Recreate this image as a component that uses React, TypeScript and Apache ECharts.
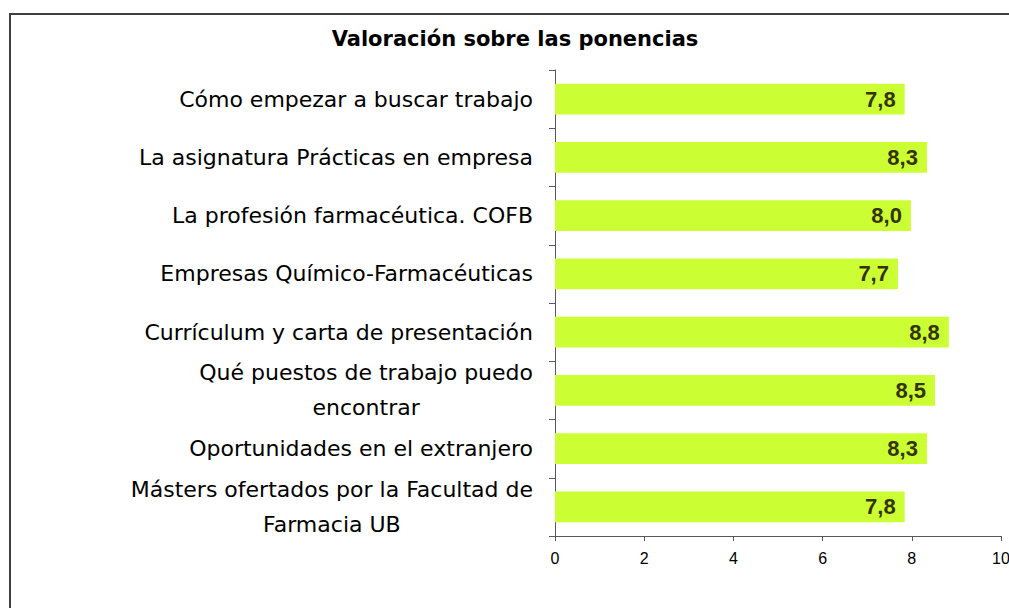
import React, { useEffect, useRef } from "react";
import * as echarts from "echarts";

const categories = [
  "Cómo empezar a buscar trabajo",
  "La asignatura Prácticas en empresa",
  "La profesión farmacéutica. COFB",
  "Empresas Químico-Farmacéuticas",
  "Currículum y carta de presentación",
  "Qué puestos de trabajo puedo\nencontrar",
  "Oportunidades en el extranjero",
  "Másters ofertados por la Facultad de\nFarmacia UB",
];
const values = [7.84, 8.34, 7.98, 7.69, 8.83, 8.52, 8.34, 7.84];
const xTicks = { min: 0, max: 10, interval: 2 };
const title = "Valoración sobre las ponencias";

const FONT = "DejaVu Sans";

export default function App() {
  const ref = useRef<HTMLDivElement>(null);
  useEffect(() => {
    if (!ref.current) return;
    const chart = echarts.init(ref.current, null, { renderer: "svg" });
    chart.setOption({
      animation: false,
      backgroundColor: "#ffffff",
      graphic: [
        {
          type: "rect",
          shape: { x: 10, y: 14, width: 1100, height: 700 },
          style: { fill: "none", stroke: "#3f3f3f", lineWidth: 2 },
          silent: true,
        },
        {
          type: "text",
          x: 515,
          y: 39,
          style: {
            text: title,
            align: "center",
            verticalAlign: "middle",
            fontFamily: FONT,
            fontWeight: "bold",
            fontSize: 21,
            fill: "#000000",
          },
        },
      ],
      grid: {
        left: 555,
        right: 8,
        top: 70,
        bottom: 72,
        containLabel: false,
        outerBoundsMode: "none",
      },
      xAxis: {
        type: "value",
        min: xTicks.min,
        max: xTicks.max,
        interval: xTicks.interval,
        axisLine: { show: true, lineStyle: { color: "#595959", width: 1 } },
        axisTick: { show: true, length: 5, lineStyle: { color: "#595959" } },
        splitLine: { show: false },
        axisLabel: {
          color: "#000000",
          fontFamily: "Liberation Sans",
          fontSize: 16,
          margin: 14,
        },
      },
      yAxis: {
        type: "category",
        inverse: true,
        data: categories,
        axisLine: { show: true, lineStyle: { color: "#595959", width: 1 } },
        axisTick: { show: true, length: 6, alignWithLabel: false, lineStyle: { color: "#595959" } },
        axisLabel: {
          margin: 22,
          color: "#000000",
          formatter: (v: string) =>
            v
              .split("\n")
              .map((l) => `{c|${l}}`)
              .join("\n"),
          rich: {
            c: {
              align: "center",
              fontFamily: FONT,
              fontSize: 22,
              lineHeight: 35,
              color: "#000000",
            },
          },
        },
      },
      series: [
        {
          type: "bar",
          data: values,
          barWidth: "53%",
          itemStyle: { color: "#ccff33" },
          label: {
            show: true,
            position: "insideRight",
            distance: 9,
            formatter: (p: any) => p.value.toFixed(1).replace(".", ","),
            fontFamily: "Liberation Sans",
            fontWeight: "bold",
            fontSize: 22,
            color: "#333300",
          },
        },
      ],
    });
    return () => chart.dispose();
  }, []);
  return (
    <div
      ref={ref}
      style={{ position: "fixed", left: 0, top: 0, width: 1009, height: 608 }}
    />
  );
}
